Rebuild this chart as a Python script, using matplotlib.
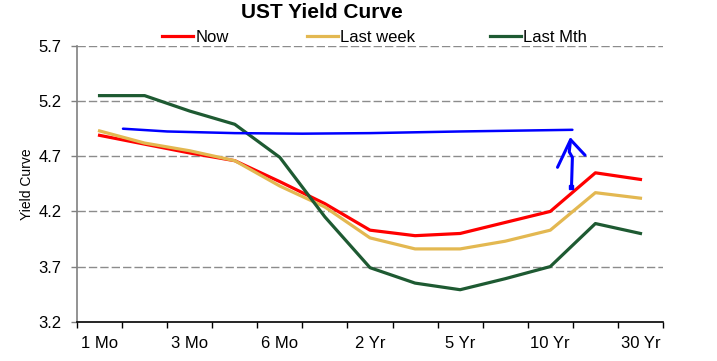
import numpy as np
import matplotlib
matplotlib.use('Agg')
import matplotlib.pyplot as plt
from matplotlib.ticker import FixedLocator

plt.rcParams['font.family'] = ['Liberation Sans Narrow', 'Liberation Sans', 'DejaVu Sans']

tenors = ['1 Mo', '2 Mo', '3 Mo', '4 Mo', '6 Mo', '1 Yr', '2 Yr', '3 Yr',
          '5 Yr', '7 Yr', '10 Yr', '20 Yr', '30 Yr']
now = [4.89, 4.81, 4.73, 4.66, 4.47, 4.27, 4.03, 3.98, 4.00, 4.10, 4.20, 4.55, 4.49]
last_week = [4.93, 4.82, 4.75, 4.66, 4.43, 4.24, 3.96, 3.86, 3.86, 3.93, 4.03, 4.37, 4.32]
last_mth = [5.25, 5.25, 5.11, 4.99, 4.69, 4.15, 3.69, 3.55, 3.49, 3.59, 3.70, 4.09, 4.00]
yticks = [3.2, 3.7, 4.2, 4.7, 5.2, 5.7]

# hand-drawn blue annotation (category units, yield units)
scribble_x = [0.52, 1.5, 3.0, 4.5, 6.0, 8.0, 10.49]
scribble_y = [4.95, 4.925, 4.91, 4.905, 4.91, 4.925, 4.94]
arrow_x = [10.47, 10.49, 10.42, 10.45]
arrow_y = [4.42, 4.69, 4.74, 4.85]
wing_x = [10.16, 10.45, 10.77]
wing_y = [4.60, 4.85, 4.71]

fig = plt.figure(figsize=(7.17, 3.61), dpi=100)
ax = fig.add_axes([77/717, 39.3/361, 586/717, 275.7/361])
x = np.arange(len(tenors))

l1, = ax.plot(x, now, color='#ff0000', lw=2.3, label='Now')
l2, = ax.plot(x, last_week, color='#e3b851', lw=2.3, label='Last week')
l3, = ax.plot(x, last_mth, color='#1e5a32', lw=2.3, label='Last Mth')

ax.plot(scribble_x, scribble_y, color='#0000ff', lw=1.8, solid_capstyle='round')
ax.plot(arrow_x, arrow_y, color='#0000ff', lw=2.2, solid_capstyle='round')
ax.plot(wing_x, wing_y, color='#0000ff', lw=2.2, solid_capstyle='round',
        solid_joinstyle='round')
ax.plot([arrow_x[0]], [arrow_y[0]], 's', color='#0000ff', ms=3)

ax.set_xlim(-0.5, len(tenors) - 0.5)
ax.set_ylim(3.2, 5.7)
ax.set_yticks(yticks)
ax.set_yticklabels([f'{v:.1f}' for v in yticks])
ax.set_xticks(x[::2])
ax.set_xticklabels(tenors[::2])
ax.xaxis.set_minor_locator(FixedLocator(np.arange(-0.5, len(tenors), 1.0)))
ax.tick_params(axis='x', which='major', length=0, pad=10, labelsize=12)
ax.tick_params(axis='x', which='minor', length=4, width=1, color='black')
ax.tick_params(axis='y', length=4, width=1, color='#808080', pad=7, labelsize=12)

for v in yticks[1:]:
    ax.axhline(v, color='#8c8c8c', lw=1, dashes=(6, 2.2), zorder=0)

for s in ['top', 'right']:
    ax.spines[s].set_visible(False)
ax.spines['left'].set_color('#808080')
ax.spines['left'].set_linewidth(1.2)
ax.spines['bottom'].set_color('black')
ax.spines['bottom'].set_linewidth(1.2)

ax.set_ylabel('Yield Curve', fontsize=10, labelpad=3)

fig.text(322/717, 1 - 13/361, 'UST Yield Curve', ha='center', va='center',
         fontsize=15, fontweight='bold')

# legend entries placed one by one, like the original
for handle, left in [(l1, 162), (l2, 307), (l3, 490)]:
    fig.legend([handle], [handle.get_label()], loc='center left',
               bbox_to_anchor=(left/717, 1 - 37/361), frameon=False,
               fontsize=12, handlelength=1.85, handletextpad=0.15,
               borderpad=0, borderaxespad=0)

fig.savefig('out.png', dpi=100)
